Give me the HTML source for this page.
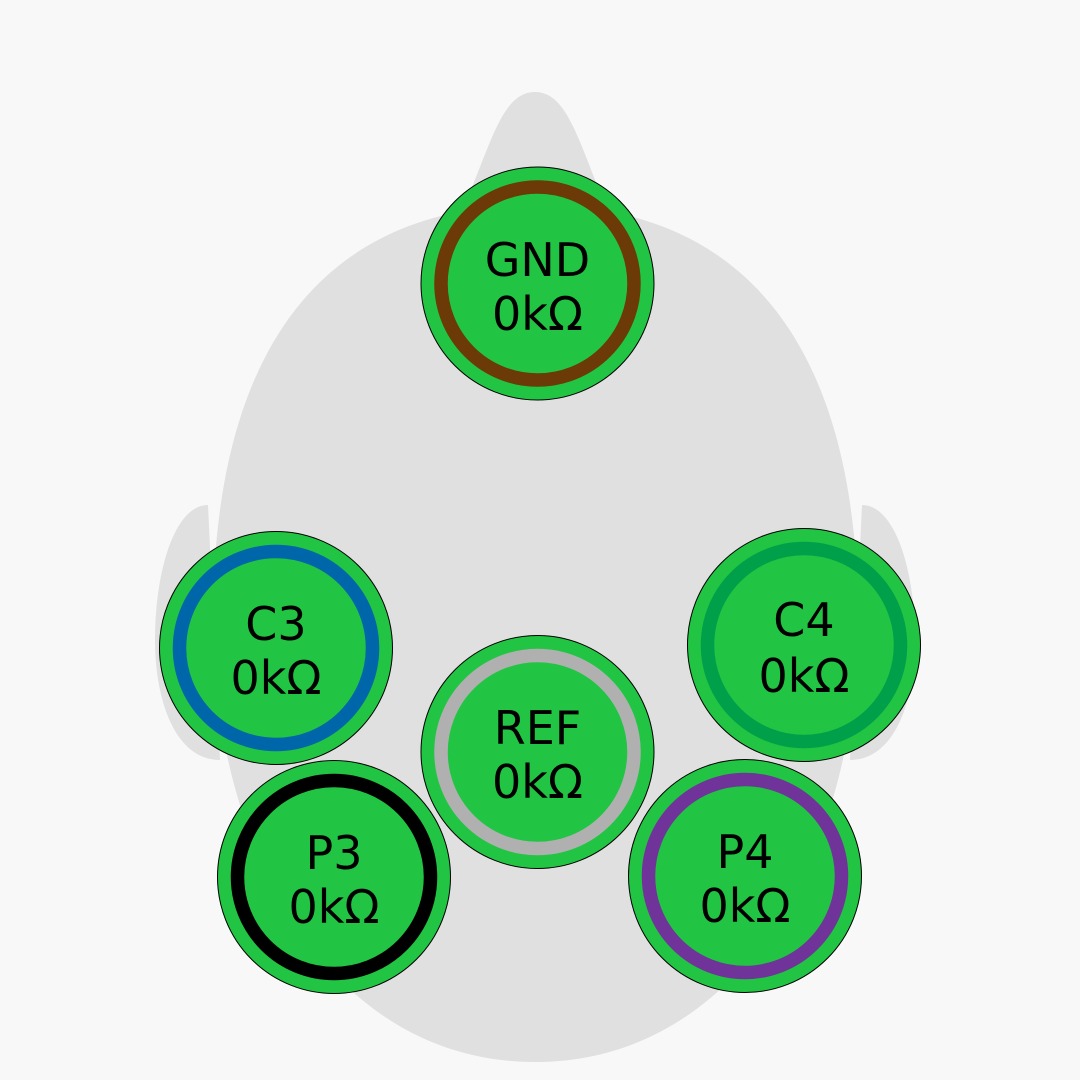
<!DOCTYPE html>
<html><head><meta charset="utf-8"><style>
html,body{margin:0;padding:0;background:#f8f8f8;}
svg{display:block}
text{font-family:"DejaVu Sans","Liberation Sans",sans-serif;font-size:46px;fill:#000;text-anchor:middle}
</style></head><body>
<svg width="1080" height="1080" viewBox="0 0 1080 1080">
<rect width="1080" height="1080" fill="#f8f8f8"/>
<g fill="#e0e0e0">
<path d="M460,215 C490,150 500,92 535,92 C570,92 580,150 610,215 Z"/>
<path d="M535,205 C300,205 213,380 213,620 C213,850 330,1062 535,1062 C740,1062 858,850 858,620 C858,380 770,205 535,205 Z"/>
<path d="M208,505 C175,505 155,570 155,640 C155,700 175,760 220,760 Z"/>
<path d="M862,505 C895,505 915,570 915,640 C915,700 895,760 850,760 Z"/>
</g>
<g stroke="#000" stroke-width="1" fill="#22c443">
<circle cx="537.5" cy="283.5" r="116.5"/>
<circle cx="276" cy="648" r="116.5"/>
<circle cx="804" cy="645" r="116.5"/>
<circle cx="537.5" cy="752" r="116.5"/>
<circle cx="334" cy="877" r="116.5"/>
<circle cx="745" cy="876" r="116.5"/>
</g>
<g fill="none" stroke-width="13.5">
<circle cx="537.5" cy="283.5" r="96.5" stroke="#6b3a07"/>
<circle cx="276" cy="648" r="96.5" stroke="#0066aa"/>
<circle cx="804" cy="645" r="96.5" stroke="#00a04a"/>
<circle cx="537.5" cy="752" r="96.5" stroke="#b0b0b0"/>
<circle cx="334" cy="877" r="96.5" stroke="#000"/>
<circle cx="745" cy="876" r="96.5" stroke="#703399"/>
</g>
<text x="537.5" y="276">GND</text><text x="537.5" y="330">0kΩ</text>
<text x="276" y="640">C3</text><text x="276" y="694">0kΩ</text>
<text x="804" y="636">C4</text><text x="804" y="692">0kΩ</text>
<text x="537.5" y="744">REF</text><text x="537.5" y="798">0kΩ</text>
<text x="334" y="869">P3</text><text x="334" y="923">0kΩ</text>
<text x="745" y="868">P4</text><text x="745" y="922">0kΩ</text>
</svg>
</body></html>
